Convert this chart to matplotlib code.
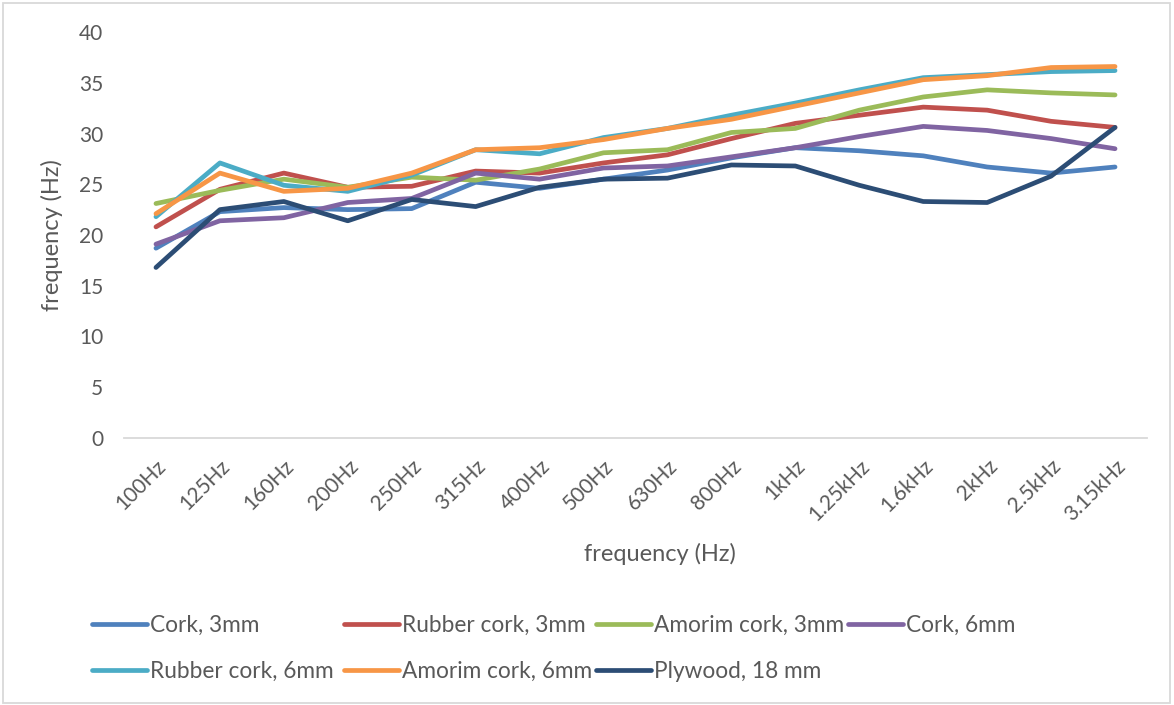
import matplotlib
matplotlib.use("Agg")
import matplotlib.pyplot as plt
from matplotlib.patches import Rectangle

plt.rcParams['font.family'] = ['Lato', 'DejaVu Sans']

bands = ['100Hz', '125Hz', '160Hz', '200Hz', '250Hz', '315Hz', '400Hz', '500Hz',
         '630Hz', '800Hz', '1kHz', '1.25kHz', '1.6kHz', '2kHz', '2.5kHz', '3.15kHz']

cork_3 = [18.7, 22.3, 22.7, 22.5, 22.6, 25.2, 24.6, 25.5, 26.4, 27.6, 28.6, 28.3, 27.8, 26.7, 26.1, 26.7]
rubber_cork_3 = [20.8, 24.5, 26.1, 24.7, 24.8, 26.3, 26.1, 27.1, 27.9, 29.5, 31.0, 31.8, 32.6, 32.3, 31.2, 30.6]
amorim_cork_3 = [23.1, 24.4, 25.5, 24.7, 25.7, 25.4, 26.5, 28.1, 28.4, 30.1, 30.5, 32.3, 33.6, 34.3, 34.0, 33.8]
cork_6 = [19.1, 21.4, 21.7, 23.2, 23.6, 26.1, 25.5, 26.6, 26.8, 27.7, 28.6, 29.7, 30.7, 30.3, 29.5, 28.5]
rubber_cork_6 = [21.8, 27.1, 24.9, 24.3, 25.9, 28.4, 28.0, 29.6, 30.5, 31.8, 33.0, 34.3, 35.5, 35.8, 36.1, 36.2]
amorim_cork_6 = [22.1, 26.1, 24.3, 24.6, 26.1, 28.4, 28.6, 29.4, 30.5, 31.4, 32.7, 34.0, 35.3, 35.7, 36.5, 36.6]
plywood_18 = [16.8, 22.5, 23.3, 21.4, 23.5, 22.8, 24.7, 25.5, 25.6, 26.9, 26.8, 24.9, 23.3, 23.2, 25.8, 30.6]

series = [
    ('Cork, 3mm', cork_3, '#4F81BD'),
    ('Rubber cork, 3mm', rubber_cork_3, '#C0504D'),
    ('Amorim cork, 3mm', amorim_cork_3, '#9BBB59'),
    ('Cork, 6mm', cork_6, '#8064A2'),
    ('Rubber cork, 6mm', rubber_cork_6, '#4BACC6'),
    ('Amorim cork, 6mm', amorim_cork_6, '#F79646'),
    ('Plywood, 18 mm', plywood_18, '#2C4D75'),
]

txt = '#595959'
W, H = 1174, 705
fig = plt.figure(figsize=(W / 100, H / 100), dpi=100)
ax = fig.add_axes([124 / W, 267 / H, 1023 / W, 406 / H])

handles = []
for name, vals, col in series:
    h, = ax.plot(range(len(bands)), vals, color=col, lw=3.4, label=name,
                 solid_capstyle='round', solid_joinstyle='round')
    handles.append(h)

ax.set_xlim(-0.5, len(bands) - 0.5)
ax.set_ylim(0, 40)
ax.set_yticks(range(0, 41, 5))
ax.set_xticks(range(len(bands)))
ax.set_xticklabels(bands, rotation=45, ha='right', va='top', rotation_mode='anchor')
ax.tick_params(axis='both', length=0, labelsize=15, labelcolor=txt)
ax.tick_params(axis='y', pad=15)
ax.tick_params(axis='x', pad=13)
for s in ['top', 'right', 'left']:
    ax.spines[s].set_visible(False)
ax.spines['bottom'].set_color('#D9D9D9')
ax.spines['bottom'].set_linewidth(1.3)

ax.set_xlabel('frequency (Hz)', fontsize=17, color=txt)
ax.set_ylabel('frequency (Hz)', fontsize=17, color=txt)
ax.xaxis.set_label_coords((660 - 124) / 1023, -(543 - 438) / 406)
ax.yaxis.set_label_coords(-(124 - 63) / 1023, 0.5)

# Excel-style legend: fixed column slots, two rows
col_x = [92, 344, 596, 848]
columns = [[0, 4], [1, 5], [2, 6], [3]]
for cx, idx in zip(col_x, columns):
    leg = fig.legend([handles[i] for i in idx], [series[i][0] for i in idx],
                     loc='upper left', bbox_to_anchor=(cx / W, 1 - 615 / H),
                     frameon=False, fontsize=16.3, labelcolor=txt, handlelength=2.45,
                     handletextpad=0.12, labelspacing=1.1, borderaxespad=0, borderpad=0)
    for ln in leg.get_lines():
        ln.set_linewidth(3.4)

fig.patches.append(Rectangle((3 / W, 2 / H), 1167 / W, 700 / H, transform=fig.transFigure,
                             fill=False, edgecolor='#D9D9D9', lw=1.3))

fig.savefig('out.png', dpi=100)
